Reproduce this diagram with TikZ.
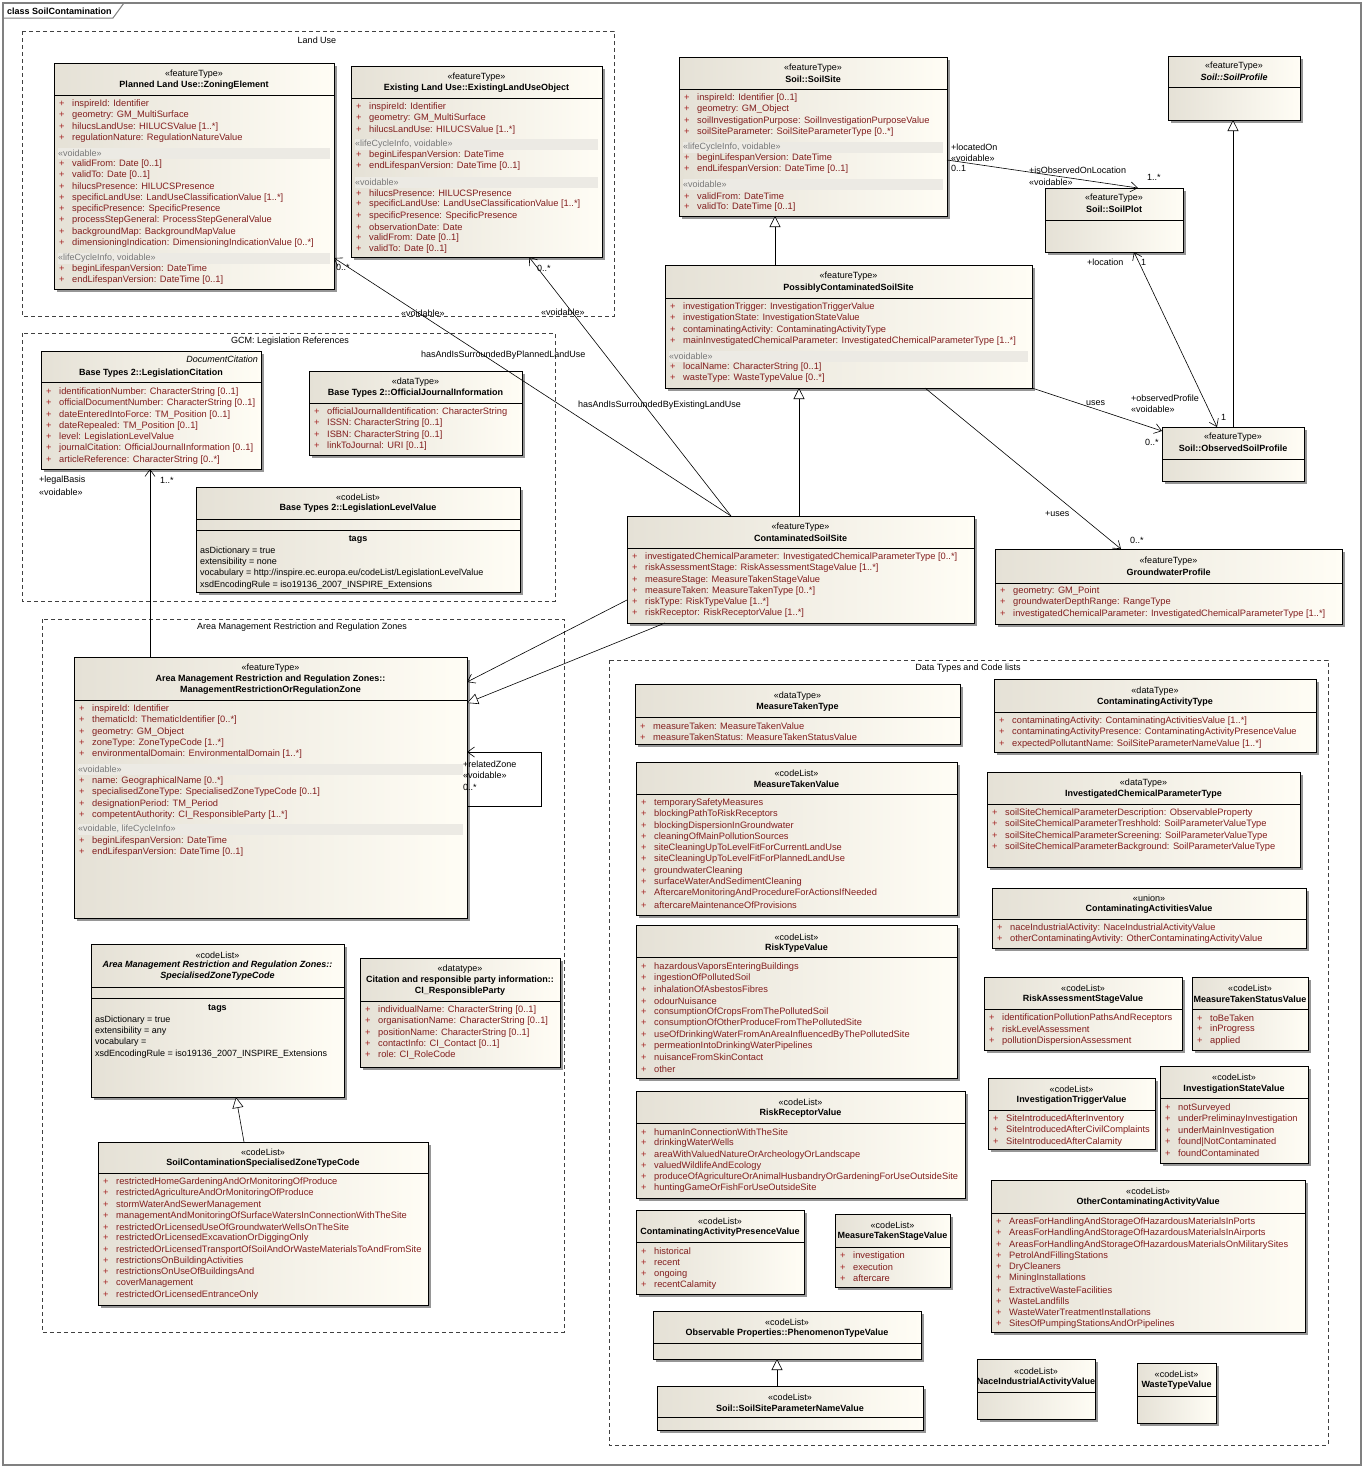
\documentclass[tikz,border=0pt]{standalone}
\usepackage{fontspec}
\setmainfont{Liberation Sans}
\usetikzlibrary{arrows.meta,shadows,calc}

\definecolor{boxl}{RGB}{229,225,214}
\definecolor{boxr}{RGB}{255,253,245}
\definecolor{attrc}{RGB}{130,30,30}
\definecolor{plusc}{RGB}{165,35,35}
\definecolor{bandc}{RGB}{236,234,228}
\definecolor{secc}{RGB}{120,120,120}
\definecolor{framec}{RGB}{128,128,128}

\newcommand{\umlfont}{\fontsize{9}{11}\selectfont}
\newcommand{\attrfont}{\fontsize{9.3}{11}\selectfont}

\tikzset{
  classbox/.style={draw=black, line width=0.8pt, left color=boxl, right color=boxr,
    drop shadow={shadow xshift=2.5pt, shadow yshift=-2.5pt, fill=black!55, opacity=0.75},
    inner sep=0pt, outer sep=0pt},
  sepline/.style={draw=black, line width=0.8pt},
  stereo/.style={font=\umlfont, inner sep=0pt},
  cname/.style={font=\umlfont\bfseries, inner sep=0pt, align=center},
  attr/.style={font=\attrfont, text=attrc, inner sep=0pt, anchor=west, xshift=5pt},
  seclab/.style={font=\umlfont, text=secc, inner sep=0pt, anchor=west, xshift=4pt},
  tagtxt/.style={font=\umlfont, inner sep=0pt, anchor=west, xshift=4pt},
  pkg/.style={draw=black!75, line width=0.7pt, dash pattern=on 4pt off 3pt},
  pkglab/.style={font=\umlfont, inner sep=0pt},
  role/.style={font=\umlfont, inner sep=0pt, anchor=west},
  assoc/.style={draw=black, line width=0.6pt, -{Straight Barb[length=7pt,width=10pt]}},
  assocboth/.style={draw=black, line width=0.6pt, {Straight Barb[length=7pt,width=10pt]}-{Straight Barb[length=7pt,width=10pt]}},
  gen/.style={draw=black, line width=0.6pt, -{Triangle[length=11pt,width=11pt,fill=white]}}
}

% box: name, x1, y1, x2, y2 (pixels, y downwards)
\newcommand{\umlclass}[5]{%
  \node[classbox, minimum width={#4pt-#2pt}, minimum height={#5pt-#3pt}] (#1) at ({(#2+#4)/2},{(#3+#5)/2}) {};}
\newcommand{\csep}[2]{\draw[sepline] (#1.west |- 0,#2) -- (#1.east |- 0,#2);}
\newcommand{\chead}[5]{%
  \node[stereo] (#1-st) at (#1.north |- 0,#4) {#2};
  \node[cname] (#1-nm) at (#1.north |- 0,#5) {#3};}
\newcommand{\attrs}[4]{%
  \foreach \itm [count=\i, evaluate=\i as \yy using #3+(\i-1)*11.3] in {#4}
    \node[attr] (#1-#2\i) at (#1.west |- 0,\yy) {\makebox[13pt][l]{\textcolor{plusc}{+}}\itm};}
\newcommand{\cband}[3]{%
  \fill[bandc] ($(#1.west |- 0,#2)+(4,-5.5)$) rectangle ($(#1.east |- 0,#2)+(-4,5.5)$);
  \node[seclab] (#1-s#2) at (#1.west |- 0,#2) {#3};}
\newcommand{\ctags}[4]{%
  \node[cname] (#1-tg) at (#1.north |- 0,#2) {tags};
  \foreach \itm [count=\i, evaluate=\i as \yy using #3+(\i-1)*11.3] in {#4}
    \node[tagtxt] (#1-t\i) at (#1.west |- 0,\yy) {\itm};}

\begin{document}
\begin{tikzpicture}[x=1pt, y=-1pt]
\useasboundingbox (0,0) rectangle (1364,1467);
\fill[white] (0,0) rectangle (1364,1467);

% frame
\draw[framec, line width=1.2pt] (3,3) rectangle (1361,1465);
\draw[framec, line width=1pt] (3,18) -- (113,18) -- (124,3);
\node[font=\umlfont\bfseries, anchor=west, inner sep=0pt] (title) at (7,11) {class SoilContamination};

% packages
\draw[pkg] (22,31) rectangle (614,316);
\node[pkglab] (pk-lu) at (317,40) {Land Use};
\draw[pkg] (22,333) rectangle (555,601);
\node[pkglab] (pk-gcm) at (290,341) {GCM: Legislation References};
\draw[pkg] (42,619) rectangle (564,1332);
\node[pkglab] (pk-am) at (302,627) {Area Management Restriction and Regulation Zones};
\draw[pkg] (609,660) rectangle (1328,1445);
\node[pkglab] (pk-dt) at (968,668) {Data Types and Code lists};

% Land Use
\umlclass{zoning}{54}{63}{334}{289}
\chead{zoning}{«featureType»}{Planned Land Use::ZoningElement}{74}{85}
\csep{zoning}{95}
\attrs{zoning}{a}{104}{inspireId: Identifier, geometry: GM\_MultiSurface, hilucsLandUse: HILUCSValue [1..*], regulationNature: RegulationNatureValue}
\cband{zoning}{153}{«voidable»}
\attrs{zoning}{b}{164}{validFrom: Date [0..1], validTo: Date [0..1], hilucsPresence: HILUCSPresence,
  specificLandUse: LandUseClassificationValue [1..*], specificPresence: SpecificPresence,
  processStepGeneral: ProcessStepGeneralValue, backgroundMap: BackgroundMapValue,
  dimensioningIndication: DimensioningIndicationValue [0..*]}
\cband{zoning}{258}{«lifeCycleInfo, voidable»}
\attrs{zoning}{c}{269}{beginLifespanVersion: DateTime, endLifespanVersion: DateTime [0..1]}

\umlclass{existing}{351}{66}{602}{257}
\chead{existing}{«featureType»}{Existing Land Use::ExistingLandUseObject}{77}{88}
\csep{existing}{98}
\attrs{existing}{a}{107}{inspireId: Identifier, geometry: GM\_MultiSurface, hilucsLandUse: HILUCSValue [1..*]}
\cband{existing}{144}{«lifeCycleInfo, voidable»}
\attrs{existing}{b}{155}{beginLifespanVersion: DateTime, endLifespanVersion: DateTime [0..1]}
\cband{existing}{182}{«voidable»}
\attrs{existing}{c}{193}{hilucsPresence: HILUCSPresence, specificLandUse: LandUseClassificationValue [1..*],
  specificPresence: SpecificPresence, observationDate: Date, validFrom: Date [0..1], validTo: Date [0..1]}

% GCM
\umlclass{legcit}{41}{351}{261}{469}
\node[stereo, anchor=east, xshift=-3pt, font=\umlfont\itshape] (legcit-st) at (legcit.east |- 0,359) {DocumentCitation};
\node[cname] (legcit-nm) at (legcit.north |- 0,373) {Base Types 2::LegislationCitation};
\csep{legcit}{382}
\attrs{legcit}{a}{392}{identificationNumber: CharacterString [0..1], officialDocumentNumber: CharacterString [0..1],
  dateEnteredIntoForce: TM\_Position [0..1], dateRepealed: TM\_Position [0..1], level: LegislationLevelValue,
  journalCitation: OfficialJournalInformation [0..1], articleReference: CharacterString [0..*]}

\umlclass{ojinfo}{309}{371}{522}{455}
\chead{ojinfo}{«dataType»}{Base Types 2::OfficialJournalInformation}{382}{393}
\csep{ojinfo}{403}
\attrs{ojinfo}{a}{412}{officialJournalIdentification: CharacterString, ISSN: CharacterString [0..1],
  ISBN: CharacterString [0..1], linkToJournal: URI [0..1]}

\umlclass{levelval}{196}{487}{520}{592}
\chead{levelval}{«codeList»}{Base Types 2::LegislationLevelValue}{497}{508}
\csep{levelval}{519}
\csep{levelval}{530}
\ctags{levelval}{540}{551}{asDictionary = true, extensibility = none,
  vocabulary = http://inspire.ec.europa.eu/codeList/LegislationLevelValue,
  xsdEncodingRule = iso19136\_2007\_INSPIRE\_Extensions}

% Area Management
\umlclass{mrrz}{74}{657}{467}{918}
\chead{mrrz}{«featureType»}{Area Management Restriction and Regulation Zones::\\ManagementRestrictionOrRegulationZone}{668}{684.5}
\csep{mrrz}{700}
\attrs{mrrz}{a}{709}{inspireId: Identifier, thematicId: ThematicIdentifier [0..*], geometry: GM\_Object,
  zoneType: ZoneTypeCode [1..*], environmentalDomain: EnvironmentalDomain [1..*]}
\cband{mrrz}{769}{«voidable»}
\attrs{mrrz}{b}{781}{name: GeographicalName [0..*], specialisedZoneType: SpecialisedZoneTypeCode [0..1],
  designationPeriod: TM\_Period, competentAuthority: CI\_ResponsibleParty [1..*]}
\cband{mrrz}{829}{«voidable, lifeCycleInfo»}
\attrs{mrrz}{c}{841}{beginLifespanVersion: DateTime, endLifespanVersion: DateTime [0..1]}

\umlclass{sztc}{91}{944}{344}{1097}
\node[stereo] (sztc-st) at (sztc.north |- 0,955) {«codeList»};
\node[cname, font=\umlfont\bfseries\itshape] (sztc-nm) at (sztc.north |- 0,970.5) {Area Management Restriction and Regulation Zones::\\SpecialisedZoneTypeCode};
\csep{sztc}{987}
\csep{sztc}{998}
\ctags{sztc}{1009}{1020}{asDictionary = true, extensibility = any, vocabulary =,
  xsdEncodingRule = iso19136\_2007\_INSPIRE\_Extensions}

\umlclass{ciparty}{360}{958}{560}{1067}
\chead{ciparty}{«datatype»}{Citation and responsible party information::\\CI\_ResponsibleParty}{969}{985.5}
\csep{ciparty}{1001}
\attrs{ciparty}{a}{1010}{individualName: CharacterString [0..1], organisationName: CharacterString [0..1],
  positionName: CharacterString [0..1], contactInfo: CI\_Contact [0..1], role: CI\_RoleCode}

\umlclass{sccode}{98}{1142}{428}{1305}
\chead{sccode}{«codeList»}{SoilContaminationSpecialisedZoneTypeCode}{1152}{1163}
\csep{sccode}{1173}
\attrs{sccode}{a}{1182}{restrictedHomeGardeningAndOrMonitoringOfProduce, restrictedAgricultureAndOrMonitoringOfProduce,
  stormWaterAndSewerManagement, managementAndMonitoringOfSurfaceWatersInConnectionWithTheSite,
  restrictedOrLicensedUseOfGroundwaterWellsOnTheSite, restrictedOrLicensedExcavationOrDiggingOnly,
  restrictedOrLicensedTransportOfSoilAndOrWasteMaterialsToAndFromSite, restrictionsOnBuildingActivities,
  restrictionsOnUseOfBuildingsAnd, coverManagement, restrictedOrLicensedEntranceOnly}

% Soil
\umlclass{soilsite}{679}{57}{947}{216}
\chead{soilsite}{«featureType»}{Soil::SoilSite}{68}{79}
\csep{soilsite}{89}
\attrs{soilsite}{a}{98}{inspireId: Identifier [0..1], geometry: GM\_Object,
  soilInvestigationPurpose: SoilInvestigationPurposeValue, soilSiteParameter: SoilSiteParameterType [0..*]}
\cband{soilsite}{147}{«lifeCycleInfo, voidable»}
\attrs{soilsite}{b}{158}{beginLifespanVersion: DateTime, endLifespanVersion: DateTime [0..1]}
\cband{soilsite}{184}{«voidable»}
\attrs{soilsite}{c}{196}{validFrom: DateTime, validTo: DateTime [0..1]}

\umlclass{soilprofile}{1168}{56}{1300}{120}
\chead{soilprofile}{«featureType»}{\textit{Soil::SoilProfile}}{66}{77}
\csep{soilprofile}{87}

\umlclass{soilplot}{1045}{188}{1183}{252}
\chead{soilplot}{«featureType»}{Soil::SoilPlot}{198}{209}
\csep{soilplot}{220}

\umlclass{osp}{1162}{427}{1304}{481}
\chead{osp}{«featureType»}{Soil::ObservedSoilProfile}{437}{448}
\csep{osp}{459}

\umlclass{pcss}{665}{265}{1032}{388}
\chead{pcss}{«featureType»}{PossiblyContaminatedSoilSite}{276}{288}
\csep{pcss}{298}
\attrs{pcss}{a}{307}{investigationTrigger: InvestigationTriggerValue, investigationState: InvestigationStateValue,
  contaminatingActivity: ContaminatingActivityType,
  mainInvestigatedChemicalParameter: InvestigatedChemicalParameterType [1..*]}
\cband{pcss}{356}{«voidable»}
\attrs{pcss}{b}{367}{localName: CharacterString [0..1], wasteType: WasteTypeValue [0..*]}

\umlclass{css}{627}{516}{974}{623}
\chead{css}{«featureType»}{ContaminatedSoilSite}{527}{538}
\csep{css}{548}
\attrs{css}{a}{557}{investigatedChemicalParameter: InvestigatedChemicalParameterType [0..*],
  riskAssessmentStage: RiskAssessmentStageValue [1..*], measureStage: MeasureTakenStageValue,
  measureTaken: MeasureTakenType [0..*], riskType: RiskTypeValue [1..*], riskReceptor: RiskReceptorValue [1..*]}

\umlclass{gwp}{995}{549}{1342}{624}
\chead{gwp}{«featureType»}{GroundwaterProfile}{561}{572}
\csep{gwp}{583}
\attrs{gwp}{a}{591}{geometry: GM\_Point, groundwaterDepthRange: RangeType,
  investigatedChemicalParameter: InvestigatedChemicalParameterType [1..*]}

% Data Types and Code lists
\umlclass{mttype}{635}{684}{960}{744}
\chead{mttype}{«dataType»}{MeasureTakenType}{696}{707}
\csep{mttype}{717}
\attrs{mttype}{a}{726}{measureTaken: MeasureTakenValue, measureTakenStatus: MeasureTakenStatusValue}

\umlclass{mtvalue}{636}{762}{957}{915}
\chead{mtvalue}{«codeList»}{MeasureTakenValue}{773}{784}
\csep{mtvalue}{794}
\attrs{mtvalue}{a}{803}{temporarySafetyMeasures, blockingPathToRiskReceptors, blockingDispersionInGroundwater,
  cleaningOfMainPollutionSources, siteCleaningUpToLevelFitForCurrentLandUse, siteCleaningUpToLevelFitForPlannedLandUse,
  groundwaterCleaning, surfaceWaterAndSedimentCleaning, AftercareMonitoringAndProcedureForActionsIfNeeded,
  aftercareMaintenanceOfProvisions}

\umlclass{rtvalue}{636}{925}{957}{1078}
\chead{rtvalue}{«codeList»}{RiskTypeValue}{937}{948}
\csep{rtvalue}{957}
\attrs{rtvalue}{a}{967}{hazardousVaporsEnteringBuildings, ingestionOfPollutedSoil, inhalationOfAsbestosFibres,
  odourNuisance, consumptionOfCropsFromThePollutedSoil, consumptionOfOtherProduceFromThePollutedSite,
  useOfDrinkingWaterFromAnAreaInfluencedByThePollutedSite, permeationIntoDrinkingWaterPipelines,
  nuisanceFromSkinContact, other}

\umlclass{rrvalue}{636}{1091}{965}{1198}
\chead{rrvalue}{«codeList»}{RiskReceptorValue}{1102}{1113}
\csep{rrvalue}{1123}
\attrs{rrvalue}{a}{1132}{humanInConnectionWithTheSite, drinkingWaterWells, areaWithValuedNatureOrArcheologyOrLandscape,
  valuedWildlifeAndEcology, produceOfAgricultureOrAnimalHusbandryOrGardeningForUseOutsideSite,
  huntingGameOrFishForUseOutsideSite}

\umlclass{capvalue}{636}{1210}{804}{1294}
\chead{capvalue}{«codeList»}{ContaminatingActivityPresenceValue}{1221}{1232}
\csep{capvalue}{1242}
\attrs{capvalue}{a}{1251}{historical, recent, ongoing, recentCalamity}

\umlclass{mtsvalue}{835}{1214}{950}{1287}
\chead{mtsvalue}{«codeList»}{MeasureTakenStageValue}{1225}{1236}
\csep{mtsvalue}{1247}
\attrs{mtsvalue}{a}{1256}{investigation, execution, aftercare}

\umlclass{ptv}{653}{1311}{921}{1359}
\chead{ptv}{«codeList»}{Observable Properties::PhenomenonTypeValue}{1322}{1333}
\csep{ptv}{1343}

\umlclass{sspnv}{657}{1386}{923}{1430}
\chead{sspnv}{«codeList»}{Soil::SoilSiteParameterNameValue}{1397}{1408}
\csep{sspnv}{1417}

\umlclass{catype}{994}{679}{1316}{752}
\chead{catype}{«dataType»}{ContaminatingActivityType}{691}{702}
\csep{catype}{712}
\attrs{catype}{a}{721}{contaminatingActivity: ContaminatingActivitiesValue [1..*],
  contaminatingActivityPresence: ContaminatingActivityPresenceValue,
  expectedPollutantName: SoilSiteParameterNameValue [1..*]}

\umlclass{icptype}{987}{772}{1300}{867}
\chead{icptype}{«dataType»}{InvestigatedChemicalParameterType}{783}{794}
\csep{icptype}{804}
\attrs{icptype}{a}{813}{soilSiteChemicalParameterDescription: ObservableProperty,
  soilSiteChemicalParameterTreshhold: SoilParameterValueType,
  soilSiteChemicalParameterScreening: SoilParameterValueType,
  soilSiteChemicalParameterBackground: SoilParameterValueType}

\umlclass{cavalue}{992}{888}{1306}{948}
\chead{cavalue}{«union»}{ContaminatingActivitiesValue}{898}{909}
\csep{cavalue}{919}
\attrs{cavalue}{a}{928}{naceIndustrialActivity: NaceIndustrialActivityValue,
  otherContaminatingAvtivity: OtherContaminatingActivityValue}

\umlclass{rasvalue}{984}{977}{1182}{1050}
\chead{rasvalue}{«codeList»}{RiskAssessmentStageValue}{988}{999}
\csep{rasvalue}{1009}
\attrs{rasvalue}{a}{1018}{identificationPollutionPathsAndReceptors, riskLevelAssessment, pollutionDispersionAssessment}

\umlclass{mtstvalue}{1192}{977}{1308}{1050}
\chead{mtstvalue}{«codeList»}{MeasureTakenStatusValue}{988}{999}
\csep{mtstvalue}{1009}
\attrs{mtstvalue}{a}{1018}{toBeTaken, inProgress, applied}

\umlclass{itvalue}{988}{1078}{1155}{1149}
\chead{itvalue}{«codeList»}{InvestigationTriggerValue}{1089}{1100}
\csep{itvalue}{1110}
\attrs{itvalue}{a}{1119}{SiteIntroducedAfterInventory, SiteIntroducedAfterCivilComplaints, SiteIntroducedAfterCalamity}

\umlclass{isvalue}{1160}{1066}{1308}{1163}
\chead{isvalue}{«codeList»}{InvestigationStateValue}{1077}{1089}
\csep{isvalue}{1098}
\attrs{isvalue}{a}{1108}{notSurveyed, underPreliminayInvestigation, underMainInvestigation,
  found|NotContaminated, foundContaminated}

\umlclass{ocavalue}{991}{1180}{1305}{1332}
\chead{ocavalue}{«codeList»}{OtherContaminatingActivityValue}{1191}{1202}
\csep{ocavalue}{1213}
\attrs{ocavalue}{a}{1222}{AreasForHandlingAndStorageOfHazardousMaterialsInPorts,
  AreasForHandlingAndStorageOfHazardousMaterialsInAirports,
  AreasForHandlingAndStorageOfHazardousMaterialsOnMilitarySites, PetrolAndFillingStations, DryCleaners,
  MiningInstallations, ExtractiveWasteFacilities, WasteLandfills, WasteWaterTreatmentInstallations,
  SitesOfPumpingStationsAndOrPipelines}

\umlclass{nacevalue}{977}{1359}{1095}{1419}
\chead{nacevalue}{«codeList»}{NaceIndustrialActivityValue}{1371}{1382}
\csep{nacevalue}{1392}

\umlclass{wtvalue}{1137}{1363}{1216}{1423}
\chead{wtvalue}{«codeList»}{WasteTypeValue}{1374}{1385}
\csep{wtvalue}{1396}

% generalizations
\draw[gen] (775,0 |- pcss.north) -- (775,0 |- soilsite.south);
\draw[gen] (799,0 |- css.north) -- (799,0 |- pcss.south);
\draw[gen] (1233,0 |- osp.north) -- (1233,0 |- soilprofile.south);
\draw[gen] (665,0 |- css.south) -- (mrrz.east |- 0,703);
\draw[gen] (244,0 |- sccode.north) -- (236,0 |- sztc.south);
\draw[gen] (777,0 |- sspnv.north) -- (777,0 |- ptv.south);

% associations
\draw[assoc] (soilsite.east |- 0,160) -- (1138,0 |- soilplot.north);
\draw[assocboth] (1217,0 |- osp.north) -- (1134,0 |- soilplot.south);
\draw[assoc] (pcss.south east) -- (osp.west |- 0,431);
\draw[assoc] (925,0 |- pcss.south) -- (1121,0 |- gwp.north);
\draw[assoc] (731,0 |- css.north) -- (zoning.east |- 0,258);
\draw[assoc] (731,0 |- css.north) -- (529,0 |- existing.south);
\draw[assoc] (css.west |- 0,600) -- (mrrz.east |- 0,682);
\draw[assoc] (150,0 |- mrrz.north) -- (150,0 |- legcit.south);
\draw[assoc] (mrrz.east |- 0,806) -- ++(74,0) -- ++(0,-54) -- (mrrz.east |- 0,752);

% role labels
\node[role] (r-locon) at (951,147) {+locatedOn};
\node[role] (r-locon-v) at (951,158) {«voidable»};
\node[role] (r-locon-m) at (951,168) {0..1};
\node[role] (r-isobs) at (1029,170) {+isObservedOnLocation};
\node[role] (r-isobs-v) at (1029,182) {«voidable»};
\node[role] (r-isobs-m) at (1147,177) {1..*};
\node[role] (r-loc) at (1087,262) {+location};
\node[role] (r-loc-m) at (1141,262) {1};
\node[role] (r-obsp) at (1131,398) {+observedProfile};
\node[role] (r-obsp-v) at (1131,409) {«voidable»};
\node[role] (r-obsp-m) at (1221,417) {1};
\node[role] (r-uses) at (1086,403) {uses};
\node[role] (r-uses-m) at (1145,442) {0..*};
\node[role] (r-guses) at (1045,514) {+uses};
\node[role] (r-guses-m) at (1130,540) {0..*};
\node[role] (r-plu) at (421,355) {hasAndIsSurroundedByPlannedLandUse};
\node[role] (r-plu-m) at (336,267) {0..*};
\node[role] (r-plu-v) at (401,313) {«voidable»};
\node[role] (r-elu) at (578,405) {hasAndIsSurroundedByExistingLandUse};
\node[role] (r-elu-m) at (537,268) {0..*};
\node[role] (r-elu-v) at (541,312) {«voidable»};
\node[role] (r-legal) at (39,480) {+legalBasis};
\node[role] (r-legal-v) at (39,492) {«voidable»};
\node[role] (r-legal-m) at (160,480) {1..*};
\node[role] (r-rel) at (463,764) {+relatedZone};
\node[role] (r-rel-v) at (463,775) {«voidable»};
\node[role] (r-rel-m) at (463,787) {0..*};

\end{tikzpicture}
\end{document}
